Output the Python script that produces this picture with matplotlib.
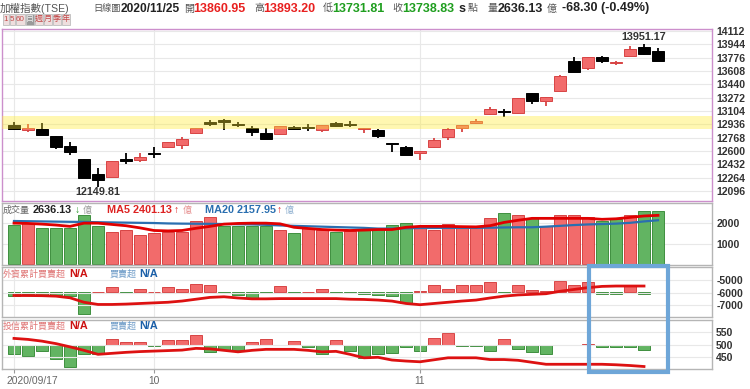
import matplotlib
matplotlib.use('Agg')
import numpy as np
import matplotlib.pyplot as plt
from matplotlib.patches import Rectangle
from matplotlib.transforms import ScaledTranslation

plt.rcParams['font.family'] = ['Liberation Sans', 'Noto Sans CJK TC', 'DejaVu Sans']
plt.rcParams['axes.unicode_minus'] = False

# ---- data (TAIEX daily, 2020/09/17 - 2020/11/25) ----
opens = [12928, 12861, 12873, 12785, 12663, 12495, 12310, 12277, 12490, 12487,
         12574, 12646, 12676, 12831, 12956, 12995, 12939, 12894, 12827, 12810,
         12899, 12897, 12861, 12953, 12938, 12880, 12865, 12699, 12655, 12575,
         12646, 12772, 12894, 12953, 13062, 13098, 13075, 13327, 13230, 13360,
         13734, 13642, 13780, 13709, 13801, 13915, 13860.95]
highs = [12970, 12936, 12957, 12790, 12709, 12497, 12382, 12480, 12571, 12579,
         12646, 12712, 12780, 12895, 12991, 13003, 12970, 12915, 12886, 12918,
         12915, 12940, 12931, 12970, 12978, 12892, 12880, 12705, 12660, 12605,
         12760, 12894, 12932, 12999, 13154, 13129, 13268, 13335, 13280, 13552,
         13784, 13785, 13793, 13730, 13927, 13951.17, 13893.20]
lows = [12861, 12844, 12800, 12629, 12550, 12260, 12149.81, 12272, 12432, 12466,
        12516, 12640, 12621, 12820, 12916, 12861, 12903, 12789, 12752, 12805,
        12870, 12852, 12836, 12903, 12903, 12832, 12760, 12592, 12548, 12487,
        12644, 12739, 12844, 12940, 13053, 13033, 13072, 13192, 13167, 13358,
        13598, 13617, 13709, 13680, 13799, 13810, 13731.81]
closes = [12877, 12886, 12802, 12646, 12583, 12264, 12235, 12474, 12484, 12524,
          12569, 12709, 12747, 12890, 12951, 12961, 12934, 12835, 12755, 12915,
          12880, 12892, 12928, 12916, 12933, 12886, 12789, 12695, 12550, 12600,
          12739, 12873, 12928, 12982, 13129, 13094, 13264, 13230, 13276, 13549,
          13600, 13780, 13738, 13726, 13885, 13818, 13738.83]

volume = [1919, 2014, 1776, 1760, 1776, 2443, 1887, 1586, 1697, 1443,
          1538, 1570, 1570, 2125, 2332, 1887, 1887, 1887, 1887, 1681,
          1538, 1760, 1681, 1570, 1601, 1650, 1760, 1919, 2014, 1855,
          1681, 1966, 1808, 1808, 2252, 2522, 2443, 2252, 1855, 2395,
          2395, 2332, 2125, 2236, 2395, 2633, 2636.13]
vol_up = [0, 1, 0, 0, 0, 0, 0, 1, 1, 1,
          1, 1, 1, 1, 1, 0, 0, 0, 0, 1,
          0, 1, 1, 0, 1, 0, 0, 0, 0, 1,
          1, 1, 1, 1, 1, 0, 1, 0, 1, 1,
          1, 1, 0, 0, 1, 0, 0]
ma5 = [2014, 2000, 1966, 1920, 1855, 2014, 2014, 1950, 1887, 1780,
       1650, 1630, 1650, 1760, 1855, 1966, 2000, 2014, 2014, 1980,
       1808, 1750, 1697, 1670, 1650, 1670, 1697, 1697, 1808, 1855,
       1855, 1855, 1840, 1830, 1887, 2050, 2157, 2252, 2252, 2252,
       2252, 2252, 2205, 2230, 2300, 2370, 2401.13]
ma20 = [2120, 2110, 2100, 2090, 2080, 2075, 2060, 2050, 2040, 2030,
        2020, 2000, 1990, 1985, 1980, 1970, 1960, 1950, 1930, 1900,
        1880, 1860, 1840, 1820, 1800, 1780, 1745, 1745, 1760, 1775,
        1775, 1780, 1780, 1780, 1790, 1800, 1810, 1810, 1840, 1880,
        1920, 1950, 1970, 1990, 2030, 2100, 2157.95]

# foreign investors: daily net (relative units) and cumulative net
foreign_net = [-12, -6, -10, -10, -12, -65, 0, 16, -2, 8,
               0, 16, 10, 25, 22, -2, -8, -18, -3, 18,
               -2, 0, 10, -3, -2, -6, -8, -12, -33, 2,
               20, 8, 20, 20, 30, -4, 20, 6, 3, 33,
               20, 30, -6, -6, 20, -6]
foreign_cum = [-6246, -6250, -6260, -6300, -6434, -6800, -6980, -6980, -6950, -6900,
               -6850, -6800, -6700, -6550, -6400, -6350, -6450, -6520, -6520, -6500,
               -6500, -6500, -6500, -6500, -6550, -6570, -6620, -6705, -6900, -7000,
               -6900, -6800, -6700, -6620, -6450, -6300, -6200, -6150, -6100, -5900,
               -5750, -5600, -5500, -5470, -5470, -5470]

# investment trust: daily net and cumulative net
trust_net = [-28, -33, -18, -43, -65, -26, -26, 18, 10, 10,
             -4, 16, 16, 30, -20, -16, -16, 10, 18, 2,
             13, -5, -26, 15, -18, -38, -26, -23, -6, -18,
             23, 36, -2, -3, -18, 18, -12, -20, -26, -1,
             -1, 5, -5, -5, -5, -16]
trust_cum = [526, 522, 515, 505, 492, 478, 462, 466, 470, 473,
             475, 477, 479, 486, 484, 478, 472, 478, 482, 482,
             482, 478, 472, 474, 462, 448, 450, 439, 435, 432,
             440, 448, 448, 448, 441, 441, 438, 430, 422, 422,
             422, 422, 422, 420, 417, 413]

price_ticks = [14112, 13944, 13776, 13608, 13440, 13272, 13104, 12936,
               12768, 12600, 12432, 12264, 12096]
xtick_idx = [0, 10, 29]
xtick_labels = ['2020/09/17', '10', '11']
periods = ['1', '5', '60', '日', '週', '月', '季', '年']

RED = '#f26b6b'
RED_EDGE = '#d84444'
GREEN = '#62b462'
GREEN_EDGE = '#3f8f3f'

W, H = 750, 389
fig = plt.figure(figsize=(W / 100, H / 100), dpi=100)
fig.patch.set_facecolor('white')


def box(x0, y0, x1, y1):
    return [x0 / W, 1 - y1 / H, (x1 - x0) / W, (y1 - y0) / H]


ax_k = fig.add_axes(box(2, 29, 712, 201))
ax_v = fig.add_axes(box(2, 203, 712, 265), sharex=ax_k)
ax_f = fig.add_axes(box(2, 267, 712, 317), sharex=ax_k)
ax_t = fig.add_axes(box(2, 320, 712, 369), sharex=ax_k)

x = np.arange(len(closes))
o, h, l, c = map(np.array, (opens, highs, lows, closes))
up = c >= o

# candles
ax_k.vlines(x, l, h, colors=np.where(up, RED_EDGE, 'black'), lw=1.3, zorder=2)
body = np.maximum(np.abs(c - o), 18)
bottom = (o + c) / 2 - body / 2
ax_k.bar(x, body, bottom=bottom, width=0.85, color=np.where(up, RED, 'black'),
         edgecolor=np.where(up, RED_EDGE, 'black'), lw=0.7, zorder=3)
ax_k.axhspan(12878, 13045, color='#ffeb33', alpha=0.38, lw=0, zorder=4)

ax_k.annotate('13951.17', (45, highs[45]), xytext=(0, 1), textcoords='offset points',
              ha='center', va='bottom', fontsize=7.8, fontweight='bold', color='#333')
ax_k.annotate('12149.81', (6, lows[6]), xytext=(0, -0.5), textcoords='offset points',
              ha='center', va='top', fontsize=7.8, fontweight='bold', color='#333')
ax_k.set_ylim(11970, 14137)
ax_k.set_yticks(price_ticks)
ax_k.set_xlim(-0.857, 49.857)

# volume
vu = np.array(vol_up, dtype=bool)
ax_v.bar(x, volume, width=0.85, color=np.where(vu, RED, GREEN),
         edgecolor=np.where(vu, RED_EDGE, GREEN_EDGE), lw=0.7, zorder=2)
ax_v.plot(x, ma20, color='#2a6fb0', lw=1.6, zorder=3)
ax_v.plot(x, ma5, color='#e00000', lw=2.0, zorder=4)
ax_v.set_ylim(-62, 3014)
ax_v.set_yticks([1000, 2000])


# foreign / trust: bars on a hidden twin behind, cumulative line in front
def flow_panel(ax, net, cum, lim, ticks, bar_lim):
    axb = ax.twinx()
    axb.set_zorder(ax.get_zorder() - 1)
    ax.patch.set_visible(False)
    axb.patch.set_facecolor('white')
    n = np.array(net)
    xs = np.arange(len(n))
    axb.bar(xs, n, width=0.85, color=np.where(n >= 0, RED, GREEN),
            edgecolor=np.where(n >= 0, RED_EDGE, GREEN_EDGE), lw=0.7)
    axb.set_ylim(*bar_lim)
    axb.set_yticks([])
    for s in axb.spines.values():
        s.set_visible(False)
    ax.plot(xs, cum, color='#dd1111', lw=2.0, zorder=3)
    ax.set_ylim(*lim)
    ax.set_yticks(ticks)


flow_panel(ax_f, foreign_net, foreign_cum, (-8008, -3910), [-7000, -6000, -5000], (-75, 75))
flow_panel(ax_t, trust_net, trust_cum, (403, 600), [450, 500, 550], (-72, 76))

for ax in (ax_k, ax_v, ax_f, ax_t):
    ax.yaxis.tick_right()
    ax.tick_params(axis='y', length=0, pad=3, labelsize=7.6, labelcolor='#333')
    for t in ax.get_yticklabels():
        t.set_fontweight('bold')
    ax.set_xticks(xtick_idx)
    ax.grid(True, color='#e8e8e8', lw=0.8, zorder=0)
    ax.set_axisbelow(True)
    for s in ax.spines.values():
        s.set_color('#b5b5b5')
        s.set_linewidth(1)
    if ax is not ax_t:
        ax.tick_params(axis='x', length=0, labelbottom=False)

for s in ax_k.spines.values():
    s.set_color('#cc8fcc')

ax_t.set_xticklabels(xtick_labels)
ax_t.tick_params(axis='x', length=3, color='#999', labelsize=7.4, labelcolor='#666', pad=2)
lab0 = ax_t.get_xticklabels()[0]
lab0.set_horizontalalignment('left')
lab0.set_transform(lab0.get_transform() + ScaledTranslation(-7 / 100, 0, fig.dpi_scale_trans))


def put(px, py, s, color='#666', weight='normal', size=6.3):
    fig.text(px / W, 1 - py / H, s, color=color, fontweight=weight, fontsize=size,
             ha='left', va='center')


# title row
NUM = 9.0
put(0, 8.5, '加權指數(TSE)', '#555', 'normal', 7.6)
put(93, 8.5, '日線圖', '#555', 'normal', 6.6)
put(121, 8.5, '2020/11/25', '#222', 'bold', 8.6)
put(184, 8.5, '開', '#555', 'normal', 7.2)
put(193, 8.5, '13860.95', '#e8201f', 'bold', NUM)
put(254, 8.5, '高', '#555', 'normal', 7.2)
put(263, 8.5, '13893.20', '#e8201f', 'bold', NUM)
put(323, 8.5, '低', '#555', 'normal', 7.2)
put(332, 8.5, '13731.81', '#1f9e1f', 'bold', NUM)
put(392, 8.5, '收', '#555', 'normal', 7.2)
put(402, 8.5, '13738.83', '#1f9e1f', 'bold', NUM)
put(459, 8.5, 's', '#222', 'bold', NUM)
put(468, 8.5, '點', '#555', 'normal', 7.2)
put(487, 8.5, '量', '#555', 'normal', 7.2)
put(498, 8.5, '2636.13', '#222', 'bold', NUM)
put(547, 8.5, '億', '#555', 'normal', 7.2)
put(562, 8.5, '-68.30 (-0.49%)', '#222', 'bold', NUM)

# period buttons
bx0 = 3
for lbl, bw in zip(periods, [6.5, 6.5, 9.5, 9, 9, 9, 9, 9]):
    sel = lbl == '日'
    fig.patches.append(Rectangle((bx0 / W, 1 - 24.5 / H), (bw - 0.8) / W, 10 / H,
                                 transform=fig.transFigure, fc='#9a9a9a' if sel else '#eedede',
                                 ec='#bdbdbd', lw=0.6))
    fig.text((bx0 + bw / 2 - 0.4) / W, 1 - 19.5 / H, lbl, ha='center', va='center',
             fontsize=5.8, color='#f4f4f4' if sel else '#c24848')
    bx0 += bw

# panel captions
put(3, 210, '成交量', '#666', 'normal', 6.5)
put(33, 210, '2636.13', '#222', 'bold', 7.8)
put(75, 210, '↓', '#2a9a2a', 'bold', 7.5)
put(83, 210, '億', '#999', 'normal', 6.5)
put(107, 210, 'MA5 2401.13', '#dd2222', 'bold', 7.8)
put(174, 210, '↑', '#dd2222', 'bold', 7.5)
put(183, 210, '億', '#e69090', 'normal', 6.5)
put(205, 210, 'MA20 2157.95', '#2a6fb0', 'bold', 7.8)
put(277, 210, '↑', '#dd2222', 'bold', 7.5)
put(285, 210, '億', '#8fb0d0', 'normal', 6.5)

for py, name in ((274, '外資累計買賣超'), (326, '投信累計買賣超')):
    put(3, py, name, '#e07878', 'normal', 6.5)
    put(69, py, 'N/A', '#cc1111', 'bold', 7.8)
    put(110, py, '買賣超', '#6f9cc8', 'normal', 6.5)
    put(139, py, 'N/A', '#1a5fa8', 'bold', 7.8)

# highlight frame
fig.patches.append(Rectangle((589 / W, 1 - 372 / H), 79 / W, 106 / H,
                             transform=fig.transFigure, fill=False,
                             ec='#6ea6d8', lw=3, zorder=10))

fig.savefig('out.png', dpi=100, facecolor=fig.get_facecolor())
